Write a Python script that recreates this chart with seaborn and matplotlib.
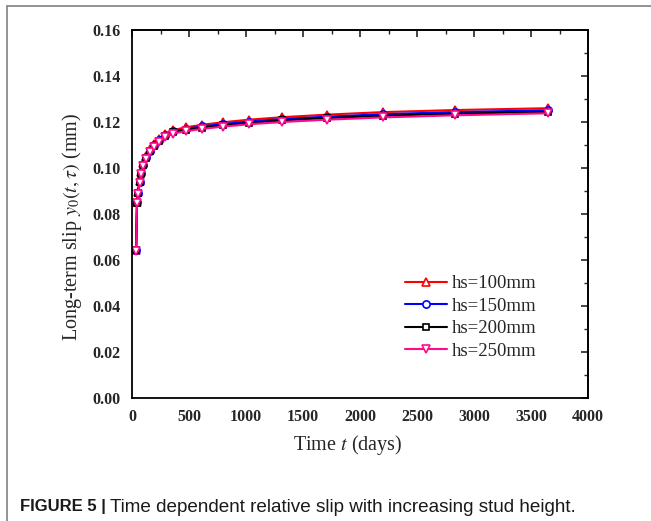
import matplotlib
matplotlib.use("Agg")
import matplotlib.pyplot as plt
from matplotlib.lines import Line2D
from matplotlib.ticker import MultipleLocator
import numpy as np
import pandas as pd
import seaborn as sns

# ---- data ----
time_days = [36, 44, 52, 66, 81, 100, 125, 155, 190, 235, 290, 360, 475, 615,
             800, 1025, 1320, 1710, 2200, 2830, 3650]
slip_hs100 = [0.0645, 0.0854, 0.0897, 0.0944, 0.0983, 0.1020, 0.1053, 0.1081, 0.1104,
              0.1127, 0.1149, 0.1165, 0.1177, 0.1188, 0.1199, 0.1210, 0.1221, 0.1232,
              0.1243, 0.1252, 0.1260]
slip_hs150 = [0.0643, 0.0851, 0.0893, 0.0940, 0.0978, 0.1015, 0.1048, 0.1075, 0.1098,
              0.1120, 0.1142, 0.1159, 0.1170, 0.1181, 0.1191, 0.1202, 0.1213, 0.1223,
              0.1234, 0.1243, 0.1251]
slip_hs200 = [0.0642, 0.0849, 0.0891, 0.0937, 0.0975, 0.1012, 0.1045, 0.1072, 0.1095,
              0.1117, 0.1139, 0.1155, 0.1166, 0.1176, 0.1186, 0.1196, 0.1207, 0.1217,
              0.1227, 0.1236, 0.1244]
slip_hs250 = [0.0640, 0.0846, 0.0888, 0.0934, 0.0972, 0.1008, 0.1040, 0.1068, 0.1090,
              0.1112, 0.1133, 0.1150, 0.1160, 0.1170, 0.1180, 0.1190, 0.1200, 0.1210,
              0.1220, 0.1229, 0.1238]
series_labels = ["hs=100mm", "hs=150mm", "hs=200mm", "hs=250mm"]
x_ticks = [0, 500, 1000, 1500, 2000, 2500, 3000, 3500, 4000]
y_ticks = [0.00, 0.02, 0.04, 0.06, 0.08, 0.10, 0.12, 0.14, 0.16]

colors = ["#ff0000", "#0000ff", "#000000", "#ff0a8c"]
markers = ["^", "o", "s", "v"]
msizes = [6.0, 5.2, 4.6, 6.0]

frames = []
for lab, vals in zip(series_labels, [slip_hs100, slip_hs150, slip_hs200, slip_hs250]):
    frames.append(pd.DataFrame({"t": time_days, "slip": vals, "series": lab}))
df = pd.concat(frames, ignore_index=True)

sns.set_style("white")
plt.rcParams["font.family"] = ["Liberation Serif", "DejaVu Serif"]
plt.rcParams["mathtext.fontset"] = "stix"

fig = plt.figure(figsize=(6.51, 5.21), dpi=100)
ax = fig.add_axes([132 / 651, 1 - 398 / 521, 456 / 651, 368 / 521])

sns.lineplot(data=df, x="t", y="slip", hue="series", style="series",
             hue_order=series_labels, style_order=series_labels,
             palette=dict(zip(series_labels, colors)),
             markers=dict(zip(series_labels, markers)), dashes=False,
             linewidth=1.5, markersize=5.5, markeredgewidth=1.2,
             markerfacecolor="white", legend=False, ax=ax)

for ln, c, ms in zip(ax.lines, colors, msizes):
    ln.set_markerfacecolor("white")
    ln.set_markeredgecolor(c)
    ln.set_markersize(ms)

ax.set_xlim(0, 4000)
ax.set_ylim(0, 0.16)
ax.set_xticks(x_ticks)
ax.set_yticks(y_ticks)
ax.set_xticklabels([str(v) for v in x_ticks])
ax.set_yticklabels([f"{v:.2f}" for v in y_ticks])
ax.xaxis.set_minor_locator(MultipleLocator(250))
ax.yaxis.set_minor_locator(MultipleLocator(0.01))
ax.tick_params(which="major", direction="out", length=5, width=1.2,
               labelsize=11.5, pad=3, color="black")
ax.tick_params(which="minor", direction="in", length=3, width=1.0, color="black")
for lbl in ax.get_xticklabels() + ax.get_yticklabels():
    lbl.set_fontweight("bold")

for s in ax.spines.values():
    s.set_visible(True)
    s.set_color("black")
    s.set_linewidth(1.3)

# mirrored ticks on top/right pointing inward
sec_x = ax.secondary_xaxis("top")
sec_x.set_xticks(x_ticks)
sec_x.xaxis.set_minor_locator(MultipleLocator(250))
sec_x.tick_params(which="major", direction="in", length=5, width=1.2, labeltop=False)
sec_x.tick_params(which="minor", direction="in", length=3, width=1.0)
sec_x.spines["top"].set_linewidth(1.3)
sec_y = ax.secondary_yaxis("right")
sec_y.set_yticks(y_ticks)
sec_y.yaxis.set_minor_locator(MultipleLocator(0.01))
sec_y.tick_params(which="major", direction="in", length=5, width=1.2, labelright=False)
sec_y.tick_params(which="minor", direction="in", length=3, width=1.0)
sec_y.spines["right"].set_linewidth(1.3)

ax.set_xlabel("Time $t$ (days)", fontsize=14.5)
ax.set_ylabel("Long-term slip $y_0(t,\\tau)$ (mm)", fontsize=14.5)
ax.xaxis.set_label_coords(0.474, -0.095)
ax.yaxis.set_label_coords(-0.106, 0.465)

ax.legend(handles=ax.lines[:4], labels=series_labels, loc="lower right",
          bbox_to_anchor=(0.904, 0.084), frameon=False, fontsize=13.5,
          handlelength=2.25, handletextpad=0.25, labelspacing=0.28,
          borderaxespad=0)

# figure border (left + top)
fig.add_artist(Line2D([7 / 651, 7 / 651], [0, 1 - 6 / 521], transform=fig.transFigure,
                      color="#8a8a8a", linewidth=1.3))
fig.add_artist(Line2D([7 / 651, 1], [1 - 6 / 521, 1 - 6 / 521], transform=fig.transFigure,
                      color="#8a8a8a", linewidth=1.3))

# caption
t1 = fig.text(20 / 651, 1 - 507 / 521, "FIGURE 5 |", fontsize=12, fontweight="bold",
              family=["Liberation Sans", "DejaVu Sans"], va="center", ha="left",
              color="#1a1a1a")
fig.canvas.draw()
bb = t1.get_window_extent(renderer=fig.canvas.get_renderer())
x2 = bb.x1 / fig.bbox.width + 4 / 651
fig.text(x2, 1 - 507 / 521, "Time dependent relative slip with increasing stud height.",
         fontsize=13.6, family=["Liberation Sans", "DejaVu Sans"], va="center",
         ha="left", color="#1a1a1a")

fig.savefig("out.png", dpi=100)
